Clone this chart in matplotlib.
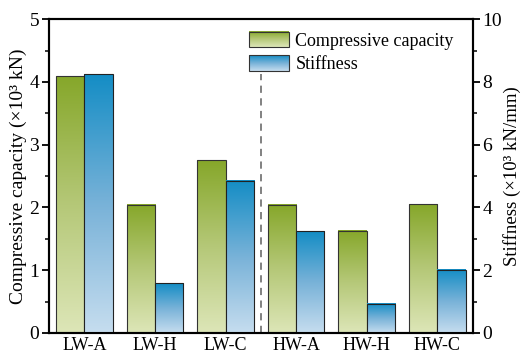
import numpy as np
import matplotlib
matplotlib.use("Agg")
import matplotlib.pyplot as plt
from matplotlib.colors import LinearSegmentedColormap
from matplotlib.legend_handler import HandlerBase
from matplotlib.image import BboxImage
from matplotlib.transforms import Bbox, TransformedBbox
from matplotlib.patches import Rectangle

plt.rcParams['font.family'] = ['Liberation Serif', 'DejaVu Serif']

specimens = ["LW-A", "LW-H", "LW-C", "HW-A", "HW-H", "HW-C"]
capacity = [4.09, 2.04, 2.75, 2.04, 1.63, 2.05]      # x10^3 kN
stiffness = [8.24, 1.58, 4.85, 3.25, 0.93, 2.01]     # x10^3 kN/mm

green = LinearSegmentedColormap.from_list("g", ["#dde6b8", "#b5c878", "#86a72a"])
blue = LinearSegmentedColormap.from_list("b", ["#c6ddef", "#78b2d8", "#148dc5"])
grad = np.linspace(0, 1, 256).reshape(-1, 1)


def gradient_bars(ax, bars, cmap):
    for b in bars:
        x0, y0 = b.get_x(), b.get_y()
        w, h = b.get_width(), b.get_height()
        b.set_facecolor("none")
        ax.imshow(grad, cmap=cmap, origin="lower", aspect="auto",
                  extent=(x0, x0 + w, y0, y0 + h), zorder=1, interpolation="bicubic")


class GradHandler(HandlerBase):
    def __init__(self, cmap):
        super().__init__()
        self.cmap = cmap

    def create_artists(self, legend, orig_handle, xdescent, ydescent,
                       width, height, fontsize, trans):
        bb = Bbox.from_bounds(-xdescent, -ydescent, width, height)
        img = BboxImage(TransformedBbox(bb, trans), cmap=self.cmap, origin="lower")
        img.set_data(grad)
        rect = Rectangle((-xdescent, -ydescent), width, height, fill=False,
                         ec="#333333", lw=0.8, transform=trans)
        return [img, rect]


fig = plt.figure(figsize=(5.23, 3.55), dpi=100)
ax = fig.add_axes([0.0937, 0.062, 0.81, 0.884])
ax2 = ax.twinx()

x = np.arange(len(specimens))
w = 0.4
b1 = ax.bar(x - w / 2, capacity, w, edgecolor="#333333", linewidth=0.8, zorder=2)
b2 = ax2.bar(x + w / 2, stiffness, w, edgecolor="#222222", linewidth=0.8, zorder=2)
gradient_bars(ax, b1, green)
gradient_bars(ax2, b2, blue)

ax.set_xlim(-0.5, 5.5)
ax.set_ylim(0, 5)
ax2.set_ylim(0, 10)
ax.set_xticks(x)
ax.set_xticklabels(specimens)
ax.set_yticks(np.arange(0, 6, 1))
ax.set_yticks(np.arange(0.5, 5, 1), minor=True)
ax2.set_yticks(np.arange(0, 12, 2))
ax2.set_yticks(np.arange(1, 10, 2), minor=True)

ax.axvline(2.5, ymax=0.825, color="#777777", ls=(0, (4, 3)), lw=1.3)

for a in (ax, ax2):
    for s in a.spines.values():
        s.set_linewidth(1.5)
    a.tick_params(direction="out", width=1.3, length=5, labelsize=14, pad=2)
    a.tick_params(which="minor", direction="out", width=1.1, length=3)
ax.tick_params(axis="x", length=0, pad=3, labelsize=13)

ax.set_ylabel("Compressive capacity (×10³ kN)", fontsize=14, labelpad=2)
ax2.set_ylabel("Stiffness (×10³ kN/mm)", fontsize=13.5, labelpad=1)

h1 = Rectangle((0, 0), 1, 1)
h2 = Rectangle((0, 0), 1, 1)
ax.legend([h1, h2], ["Compressive capacity", "Stiffness"],
          handler_map={h1: GradHandler(green), h2: GradHandler(blue)},
          loc="upper right", frameon=False, fontsize=13,
          handlelength=2.2, handleheight=0.95, handletextpad=0.35,
          labelspacing=0.3, borderaxespad=0.3, bbox_to_anchor=(0.985, 1.0))

fig.savefig("out.png", dpi=100)
